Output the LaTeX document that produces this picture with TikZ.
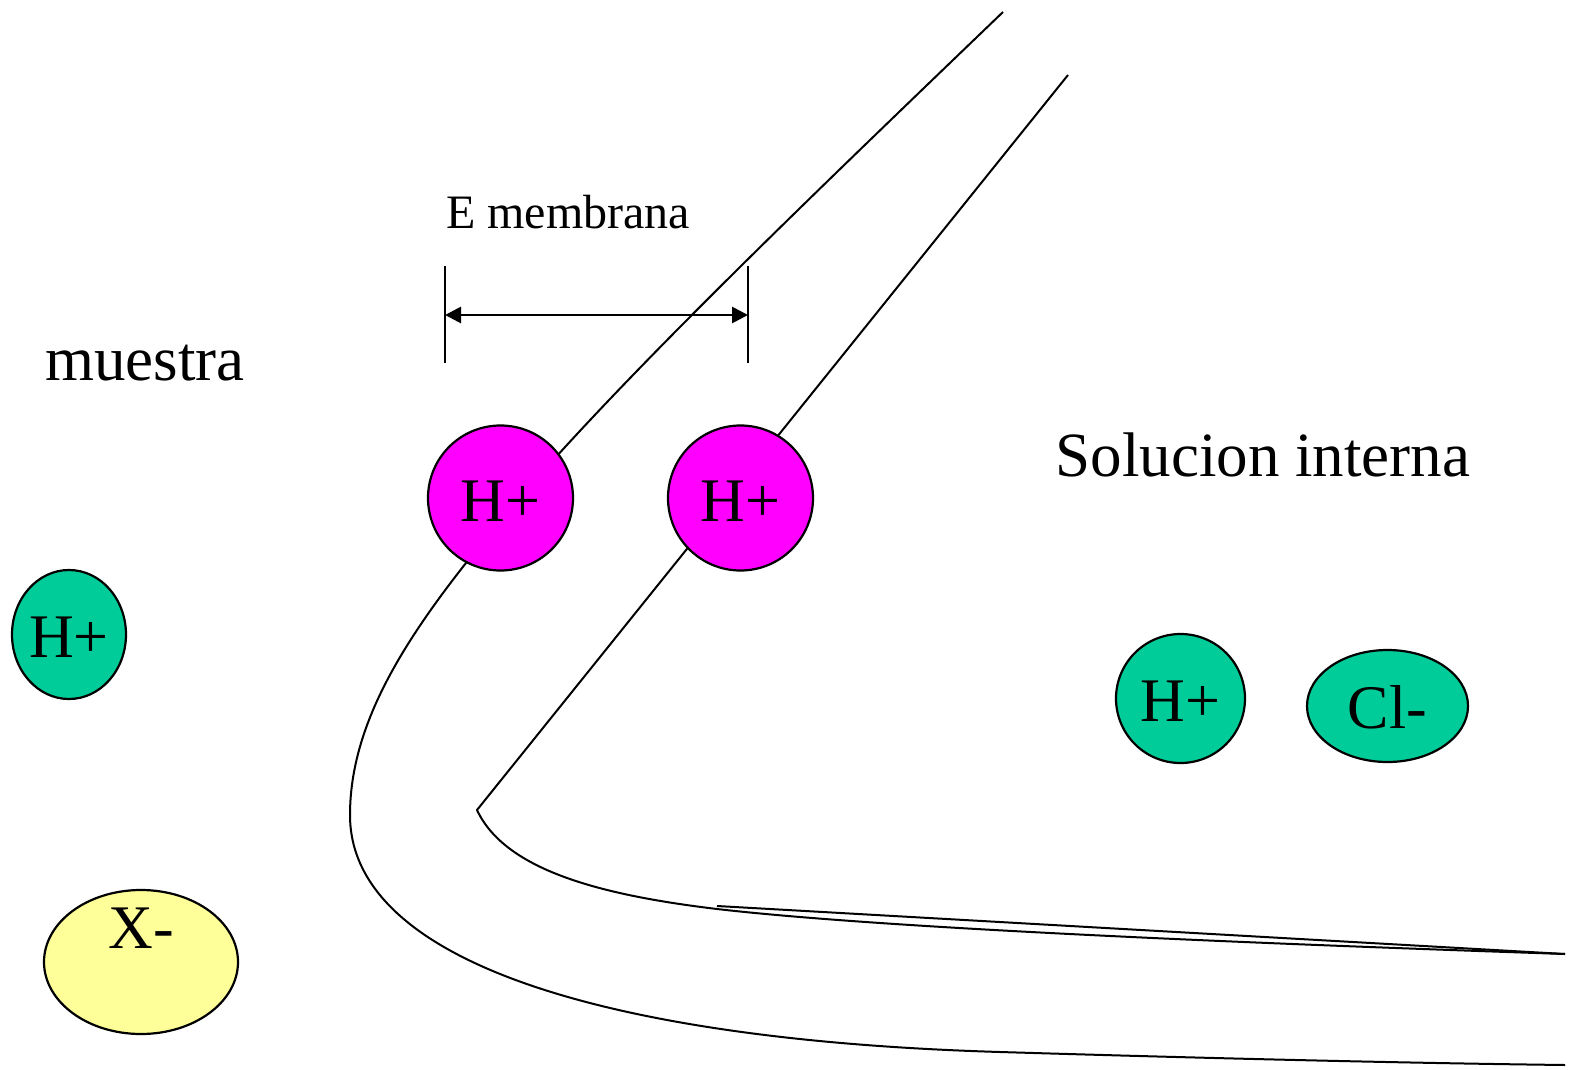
\documentclass[tikz,border=0pt]{standalone}
\usepackage{fontspec}
\setmainfont{Liberation Serif}
\usetikzlibrary{arrows.meta,shapes.geometric}
\definecolor{ionpink}{HTML}{FF00FF}
\definecolor{iongreen}{HTML}{00CC99}
\definecolor{ionyellow}{HTML}{FFFF99}
\tikzset{
  wall/.style={line width=2pt, line join=round},
  ion/.style={ellipse, draw=black, line width=2.2pt, inner sep=0pt},
  ionlabel/.style={anchor=base, inner sep=0pt, font=\fontsize{62}{70}\selectfont},
  bigtext/.style={anchor=base, inner sep=0pt, font=\fontsize{63}{72}\selectfont},
  smalltext/.style={anchor=base, inner sep=0pt, font=\fontsize{48}{56}\selectfont},
  tick/.style={line width=2.8pt},
  dimarrow/.style={line width=2.8pt, {Triangle[length=16pt,width=16pt]}-{Triangle[length=16pt,width=16pt]}}
}
\begin{document}
\begin{tikzpicture}[x=1pt,y=-1pt]
\useasboundingbox (0,0) rectangle (1569,1070);

% outer wall of the glass membrane
\draw[wall] (1003,12) .. controls (800,207) and (620,380) .. (511,508)
  .. controls (420,616) and (350,712) .. (350,815)
  .. controls (350,960) and (600,1040) .. (1000,1052)
  .. controls (1200,1058) and (1400,1063) .. (1565,1065);

% inner wall of the glass membrane
\draw[wall] (1068,75) -- (477,810)
  .. controls (505,870) and (600,895) .. (717,909)
  .. controls (900,930) and (1300,945) .. (1565,954);
\draw[wall] (717,906) -- (1565,954);

% membrane potential dimension
\coordinate (dl) at (445,315);
\coordinate (dr) at (748,315);
\draw[tick] (445,266) -- (445,363);
\draw[tick] (748,266) -- (748,363);
\draw[dimarrow] (dl) -- (dr);
\node[smalltext] (emem) at (568,228) {E membrana};

% region labels
\node[bigtext] (muestra) at (145,380) {muestra};
\node[bigtext] (interna) at (1263,476) {Solucion interna};

% ions
\node[ion, fill=ionpink, minimum width=145pt, minimum height=145pt] (p1) at (500.5,498) {};
\node[ion, fill=ionpink, minimum width=145pt, minimum height=145pt] (p2) at (740.5,498) {};
\node[ionlabel] (p1t) at (500.5,521) {H+};
\node[ionlabel] (p2t) at (740.5,521) {H+};

\node[ion, fill=iongreen, minimum width=114pt, minimum height=129pt] (g1) at (69,634.5) {};
\node[ionlabel] (g1t) at (69,657) {H+};

\node[ion, fill=iongreen, minimum width=129pt, minimum height=129pt] (g2) at (1180.5,698.5) {};
\node[ionlabel] (g2t) at (1180.5,721) {H+};

\node[ion, fill=iongreen, minimum width=161pt, minimum height=112pt] (cl) at (1387.5,706) {};
\node[ionlabel] (clt) at (1387.5,728) {Cl-};

\node[ion, fill=ionyellow, minimum width=194pt, minimum height=144pt] (x) at (141,962) {};
\node[ionlabel] (xt) at (141,948) {X-};
\end{tikzpicture}
\end{document}
